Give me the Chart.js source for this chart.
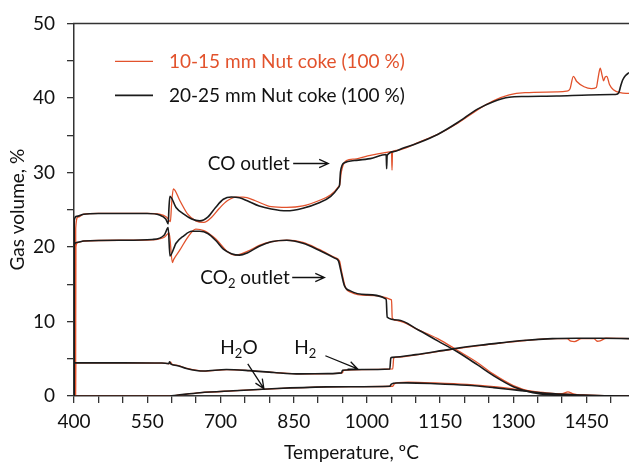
<!DOCTYPE html>
<html><head><meta charset="utf-8">
<script src="https://cdn.jsdelivr.net/npm/chart.js@4.4.0/dist/chart.umd.min.js"></script>
<style>html,body{margin:0;padding:0;background:#fff}#wrap{width:629px;height:466px}</style>
</head><body><div id="wrap"><canvas id="c" width="629" height="466"></canvas></div>
<script>
// ---- data (temperature °C, gas volume %) ----
const coBlkT = [400,400.5,405,420,450,500,550,575,588,593,594.5,596.5,609,625,641,657.6,674,690,706,722.6,739,755,779.5,804,836,869,901,926,942,944,946,954,974.6,1007,1039.6,1040.5,1041.5,1056,1072,1104.6,1145,1186,1226.5,1259,1291.5,1324,1389,1454,1503,1512,1516,1520,1524,1530,1537];
const coBlkV = [0,23.6,24.1,24.4,24.5,24.5,24.5,24.3,23.75,23.1,25.2,26.8,25.3,24.4,23.75,23.5,24.0,25.3,26.4,26.7,26.6,26.2,25.5,25.1,24.85,25.2,25.9,26.8,28.0,28.3,30.1,31.3,31.6,31.85,32.4,30.5,32.3,32.8,33.2,33.95,35.1,36.7,38.5,39.5,40.1,40.2,40.25,40.4,40.45,40.5,40.7,41.6,42.4,43.0,43.4];
const coRedT = [403,403.5,408,420,450,500,550,575,590,597.5,600,603.5,617,633,649.5,666,682,698,714,731,747,771.5,804,836,869,901,926,942,944.5,947.5,958,975,1007,1040,1050.5,1051.5,1052.5,1064,1080,1104.6,1145,1186,1226.5,1259,1291.5,1324,1389,1409,1416,1423,1430,1445,1460,1470,1474,1478,1482,1485,1488,1491.5,1497,1505,1519,1537];
const coRedV = [0,22.5,24.0,24.4,24.5,24.5,24.5,24.4,24.0,23.4,25.8,27.8,26.2,24.4,23.5,23.3,24.0,25.2,26.2,26.7,26.7,26.2,25.4,25.3,25.5,26.2,27.0,28.1,28.4,30.0,31.6,31.8,32.3,32.7,32.8,30.3,32.8,33.0,33.3,34.0,35.1,36.6,38.4,39.6,40.4,40.7,40.8,40.9,41.2,42.9,42.2,41.5,41.25,41.4,42.8,44.0,43.0,42.3,42.8,42.9,41.8,41.1,40.7,40.6];
const co2BlkT = [400,400.5,405,420,500,560,585,593,596.5,609,625,641,657.6,674,690,706,722.6,739,755,779.5,804,836,869,901,934,942,946,954,966,998.6,1039.6,1041.5,1064,1104.6,1145,1186,1226,1260,1300,1340,1380,1420,1460,1537];
const co2BlkV = [0,20.3,20.6,20.8,20.9,21.0,21.6,22.6,18.8,20.5,21.5,22.1,22.1,21.8,20.9,19.7,19.1,18.9,19.2,20.1,20.7,20.9,20.5,19.6,18.5,18.1,17.0,14.8,14.1,13.6,13.0,10.6,10.2,8.9,7.4,5.9,4.2,2.7,1.25,0.45,0.15,0.05,0,0];
const co2RedT = [403,403.5,408,420,500,560,585,595,601.5,604,617,633,649.5,666,690,714,731,755,779.5,804,836,869,901,934,944,948,956,968,1000,1050.5,1052,1064,1104.6,1145,1186,1226,1260,1300,1340,1380,1400,1412,1422,1440,1470,1537];
const co2RedV = [0,20.0,20.6,20.8,20.9,20.95,21.3,21.9,17.9,18.3,19.6,21.3,22.4,22.2,21.1,19.4,18.9,19.4,20.2,20.7,20.9,20.6,19.7,18.6,18.1,16.8,14.6,13.9,13.5,12.9,10.4,10.1,8.9,7.7,6.1,4.5,2.9,1.4,0.55,0.25,0.3,0.55,0.3,0.1,0,0];
const h2BlkT = [400,400.5,450,500,580,594,596,598,610,630,665,712,760,810,863,920,948,950,990,1047,1049,1052,1100,1170,1230,1273,1320,1380,1430,1480,1537];
const h2BlkV = [0,4.45,4.45,4.45,4.42,4.35,4.6,4.3,4.1,3.7,3.35,3.55,3.4,3.15,2.97,3.0,3.1,3.45,3.55,3.63,5.1,5.18,5.55,6.26,6.8,7.13,7.45,7.7,7.75,7.75,7.7];
const h2RedT = [403,403.5,450,500,580,596,598,600,612,632,667,714,762,812,865,922,950,952,992,1053,1055,1058,1105,1175,1235,1278,1325,1385,1410,1418,1425,1440,1465,1472,1478,1490,1537];
const h2RedV = [0,4.45,4.45,4.45,4.42,4.35,4.55,4.3,4.1,3.7,3.35,3.55,3.4,3.15,2.97,3.0,3.1,3.45,3.55,3.63,5.1,5.18,5.55,6.26,6.8,7.13,7.45,7.7,7.7,7.35,7.3,7.7,7.7,7.35,7.4,7.75,7.7];
const h2oBlkT = [400,596,610,658,726,815,918,966,1047,1050,1061,1082,1140,1205,1260,1307,1368,1443,1500,1537];
const h2oBlkV = [0,0,0.1,0.44,0.7,1.0,1.22,1.25,1.31,1.6,1.75,1.76,1.65,1.44,1.12,0.79,0.35,0.13,0.02,0];
const h2oRedT = [403,598,612,660,728,817,920,968,1053,1056,1065,1085,1140,1205,1260,1307,1368,1443,1500,1537];
const h2oRedV = [0,0,0.1,0.44,0.7,1.0,1.22,1.25,1.31,1.6,1.8,1.85,1.75,1.55,1.25,0.9,0.42,0.15,0.03,0];

const legendLabels = ['10-15 mm Nut coke (100 %)', '20-25 mm Nut coke (100 %)'];
const xTitle = 'Temperature, ºC';
const yTitle = 'Gas volume, %';

// annotations in data coordinates
const notes = [
  {segs:[['CO outlet']], x:842, y:31.2, align:'right', arrow:[849,31.2,921,31.2]},
  {segs:[['CO'],['2',1],[' outlet']], x:842, y:15.9, align:'right', arrow:[847,15.9,913,15.9]},
  {segs:[['H'],['2',1],['O']], x:738, y:6.45, align:'center', arrow:[756,4.3,789,1.0]},
  {segs:[['H'],['2',1]], x:874, y:6.45, align:'center', arrow:[915,5.4,981,3.63]}
];

const RED = '#e2522c', BLK = '#1b1b1b';
const FONT = 'Lato, "Open Sans", sans-serif';
const FS = 19;
const pts = (T, V) => T.map((t, i) => ({x: t, y: V[i]}));
const ds = (T, V, c, w) => ({data: pts(T, V), borderColor: c, borderWidth: w, pointRadius: 0, fill: false, cubicInterpolationMode: 'monotone'});

function drawRich(ctx, segs, x, y, align) {
  const big = FS + 'px ' + FONT, small = '13px ' + FONT;
  let w = 0;
  segs.forEach(s => { ctx.font = s[1] ? small : big; w += ctx.measureText(s[0]).width; });
  let cx = align === 'right' ? x - w : align === 'center' ? x - w / 2 : x;
  ctx.textAlign = 'left'; ctx.textBaseline = 'middle'; ctx.fillStyle = '#111';
  segs.forEach(s => { ctx.font = s[1] ? small : big; ctx.fillText(s[0], cx, y + (s[1] ? 6 : 0)); cx += ctx.measureText(s[0]).width; });
  return cx;
}
function arrow(ctx, x1, y1, x2, y2) {
  const a = Math.atan2(y2 - y1, x2 - x1), L = 10, h = 0.42;
  ctx.beginPath(); ctx.moveTo(x1, y1); ctx.lineTo(x2, y2);
  ctx.moveTo(x2 - L * Math.cos(a - h), y2 - L * Math.sin(a - h)); ctx.lineTo(x2, y2);
  ctx.lineTo(x2 - L * Math.cos(a + h), y2 - L * Math.sin(a + h));
  ctx.stroke();
}

const deco = {
  id: 'deco',
  afterDraw(chart) {
    const {ctx, chartArea: ca, scales: {x, y}} = chart;
    ctx.save();
    // top frame line
    ctx.strokeStyle = '#333'; ctx.lineWidth = 1.5;
    ctx.beginPath(); ctx.moveTo(ca.left - 1, ca.top); ctx.lineTo(ca.right, ca.top); ctx.stroke();
    // legend
    [[RED, 1.4, 38], [BLK, 1.8, 72]].forEach((it, i) => {
      const yy = ca.top + it[2];
      ctx.strokeStyle = it[0]; ctx.lineWidth = it[1];
      ctx.beginPath(); ctx.moveTo(ca.left + 41, yy); ctx.lineTo(ca.left + 79, yy); ctx.stroke();
      ctx.font = FS + 'px ' + FONT; ctx.fillStyle = i === 0 ? RED : '#111';
      ctx.textAlign = 'left'; ctx.textBaseline = 'middle';
      ctx.fillText(legendLabels[i], ca.left + 95, yy);
    });
    // annotations
    ctx.strokeStyle = '#111'; ctx.lineWidth = 1.3;
    notes.forEach(n => {
      drawRich(ctx, n.segs, x.getPixelForValue(n.x), y.getPixelForValue(n.y), n.align);
      const a = n.arrow;
      arrow(ctx, x.getPixelForValue(a[0]), y.getPixelForValue(a[1]), x.getPixelForValue(a[2]), y.getPixelForValue(a[3]));
    });
    ctx.restore();
  }
};

new Chart(document.getElementById('c'), {
  type: 'line',
  data: {datasets: [
    ds(coBlkT, coBlkV, BLK, 1.6), ds(co2BlkT, co2BlkV, BLK, 1.6), ds(h2BlkT, h2BlkV, BLK, 1.6), ds(h2oBlkT, h2oBlkV, BLK, 1.6),
    ds(coRedT, coRedV, RED, 1.3), ds(co2RedT, co2RedV, RED, 1.3), ds(h2RedT, h2RedV, RED, 1.3), ds(h2oRedT, h2oRedV, RED, 1.3)
  ]},
  options: {
    responsive: false, animation: false, devicePixelRatio: 1,
    layout: {padding: {top: 15, right: 0, bottom: 0, left: 0}},
    plugins: {legend: {display: false}, tooltip: {enabled: false}},
    scales: {
      x: {
        type: 'linear', min: 400, max: 1537,
        ticks: {stepSize: 50, includeBounds: false, autoSkip: false, maxRotation: 0,
          callback: v => ((v - 400) % 150 === 0 ? String(v) : ''),
          font: {size: FS, family: FONT}, color: '#111', padding: 7},
        grid: {drawOnChartArea: false, drawTicks: true, tickLength: 7, color: '#333', lineWidth: 1.3},
        border: {display: true, color: '#333', width: 1.5},
        title: {display: true, text: xTitle, font: {size: FS, family: FONT}, color: '#111', padding: {top: 0, bottom: 1.5}},
        afterFit: s => { s.height = 70; }
      },
      y: {
        min: 0, max: 50,
        ticks: {stepSize: 5, autoSkip: false,
          callback: v => (v % 10 === 0 ? String(v) : ''),
          font: {size: FS, family: FONT}, color: '#111', padding: 12},
        grid: {drawOnChartArea: false, drawTicks: true, tickLength: 7, color: '#333', lineWidth: 1.3},
        border: {display: true, color: '#333', width: 1.5},
        title: {display: true, text: yTitle, font: {size: FS, family: FONT}, color: '#111', padding: {top: 6.5, bottom: 0}},
        afterFit: s => { s.width = 74; }
      }
    }
  },
  plugins: [deco]
});
</script></body></html>
